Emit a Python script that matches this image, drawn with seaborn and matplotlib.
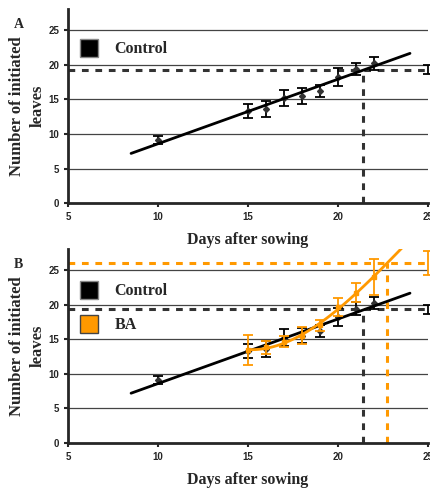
import numpy as np
import matplotlib
matplotlib.use('Agg')
import matplotlib.pyplot as plt
import seaborn as sns
from matplotlib.patches import Patch

# Control: days after sowing vs initiated leaves (mean, error)
ctrl_days = [10, 15, 16, 17, 18, 19, 20, 21, 22]
ctrl_leaves = [9.1, 13.3, 13.6, 15.2, 15.5, 16.2, 18.2, 19.4, 20.2]
ctrl_err = [0.6, 1.0, 1.2, 1.2, 1.1, 0.9, 1.3, 0.9, 0.9]

# BA treatment
ba_days = [15, 16, 17, 18, 19, 20, 21, 22]
ba_leaves = [13.4, 13.8, 14.6, 15.5, 17.0, 19.6, 21.7, 24.0]
ba_err = [2.2, 1.0, 0.8, 1.2, 0.8, 1.3, 1.4, 2.6]

# leaf number at which flowering happens and day it is reached
ctrl_target, ctrl_target_err, ctrl_target_day = 19.3, 0.6, 21.4
ba_target, ba_target_err, ba_target_day = 26.0, 1.8, 22.7

x_ticks = [5, 10, 15, 20, 25]
y_ticks = [0, 5, 10, 15, 20, 25]
orange = '#FF9900'
dark = '#333333'

sns.set_style('ticks')
plt.rcParams['font.family'] = ['Liberation Sans', 'DejaVu Sans']
serif = 'Liberation Serif'

fig = plt.figure(figsize=(4.31, 4.92), dpi=100)
ax_a = fig.add_axes([0.158, 0.587, 0.835, 0.394])
ax_b = fig.add_axes([0.158, 0.0996, 0.835, 0.394])

# linear fit for control
c_fit = np.polyfit(ctrl_days, ctrl_leaves, 1)
c_x = np.linspace(8.5, 24, 50)
# curve fit for BA
b_fit = np.polyfit(ba_days, ba_leaves, 3)
b_x = np.linspace(15, 24, 100)

leg_kw = dict(loc='upper left', frameon=False, borderpad=0, borderaxespad=0,
              handlelength=1.15, handleheight=1.3, handletextpad=1.0, labelspacing=1.0,
              prop={'family': serif, 'weight': 'bold', 'size': 11.5})


def draw_control(ax):
    ax.plot([5, 25], [ctrl_target, ctrl_target], ls=(0, (2.2, 2.2)), color=dark, lw=2.2, zorder=2)
    ax.plot([ctrl_target_day, ctrl_target_day], [0, ctrl_target], ls=(0, (2.2, 2.2)), color=dark, lw=2.2, zorder=2)
    ax.errorbar(ctrl_days, ctrl_leaves, yerr=ctrl_err, fmt='D', ms=3, color=dark,
                ecolor='black', elinewidth=1.3, capsize=3.5, capthick=1.3, zorder=4)
    ax.errorbar([25], [ctrl_target], yerr=[ctrl_target_err], fmt='none',
                ecolor='black', elinewidth=1.3, capsize=3.5, capthick=1.3, zorder=4, clip_on=False)
    sns.lineplot(x=c_x, y=np.polyval(c_fit, c_x), color='black', lw=2, ax=ax, zorder=5)


def style(ax, label):
    ax.set_xlim(5, 25)
    ax.set_ylim(0, 28)
    ax.set_xticks(x_ticks)
    ax.set_yticks(y_ticks)
    for y in y_ticks[1:]:
        ax.axhline(y, color='#444444', lw=0.9, zorder=1)
    sns.despine(ax=ax)
    ax.spines['left'].set_linewidth(2)
    ax.spines['bottom'].set_linewidth(2)
    ax.tick_params(width=1.5, length=3, labelsize=7)
    for t in ax.get_xticklabels() + ax.get_yticklabels():
        t.set_fontweight('bold')
    ax.set_xlabel('Days after sowing', fontfamily=serif, fontweight='bold', fontsize=11.5, labelpad=7)
    ax.set_ylabel('Number of initiated\nleaves', fontfamily=serif, fontweight='bold', fontsize=12,
                  labelpad=2, linespacing=1.35)
    ax.text(-0.15, 0.92, label, transform=ax.transAxes, fontfamily=serif, fontweight='bold',
            fontsize=10, va='center')


# Panel A
draw_control(ax_a)
style(ax_a, 'A')
ax_a.legend(handles=[Patch(facecolor='black', edgecolor='#888888', label='Control')],
            bbox_to_anchor=(0.033, 0.845), **leg_kw)

# Panel B
draw_control(ax_b)
ax_b.plot([5, 25], [ba_target, ba_target], ls=(0, (2.2, 2.2)), color=orange, lw=2.2, zorder=2)
ax_b.plot([ba_target_day, ba_target_day], [0, ba_target], ls=(0, (2.2, 2.2)), color=orange, lw=2.2, zorder=2)
ax_b.errorbar(ba_days, ba_leaves, yerr=ba_err, fmt='s', ms=3, color=orange,
              ecolor=orange, elinewidth=1.3, capsize=3.5, capthick=1.3, zorder=6)
ax_b.errorbar([25], [ba_target], yerr=[ba_target_err], fmt='none',
              ecolor=orange, elinewidth=1.3, capsize=3.5, capthick=1.3, zorder=6, clip_on=False)
sns.lineplot(x=b_x, y=np.polyval(b_fit, b_x), color=orange, lw=2, ax=ax_b, zorder=7)
style(ax_b, 'B')
ax_b.legend(handles=[Patch(facecolor='black', edgecolor='#888888', label='Control'),
                     Patch(facecolor=orange, edgecolor='#444444', label='BA')],
            bbox_to_anchor=(0.033, 0.835), **leg_kw)

fig.savefig('out.png', dpi=100)
